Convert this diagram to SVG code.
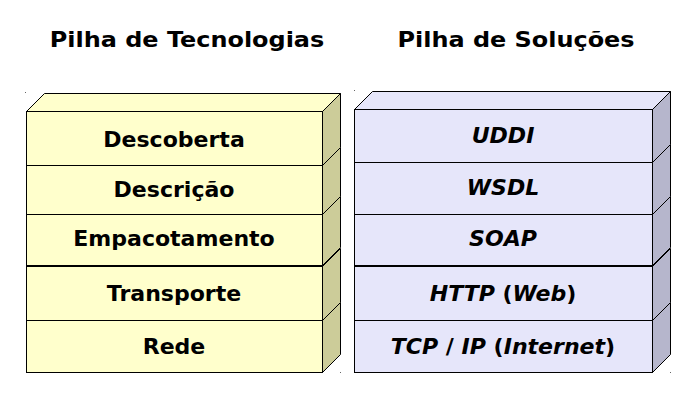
<svg xmlns="http://www.w3.org/2000/svg" width="700" height="400" viewBox="0 0 700 400">
<style>
  .t { font-family: "DejaVu Sans", "Liberation Sans", sans-serif; font-weight: bold; font-size: 21px; fill: #000; text-anchor: middle; }
  .i { font-style: italic; }
  .ln { stroke: #000; stroke-width: 1; }
  .yf { fill: #FFFFCC; }
  .ys { fill: #CCCC99; }
  .bf { fill: #E6E6FA; }
  .bs { fill: #B6B6CC; }
  .dot { fill: #666; }
</style>
<rect width="700" height="400" fill="#fff"/>
<text class="t" transform="translate(187,47) scale(1.14,1)">Pilha de Tecnologias</text>
<text class="t" transform="translate(516,47) scale(1.14,1)">Pilha de Soluções</text>

<!-- Left stack -->
<g id="left-stack">
  <g id="rede">
    <polygon class="ys ln" points="322.5,320.5 340.5,302.5 340.5,354.5 322.5,372.5"/>
    <rect class="yf ln" x="26.5" y="320.5" width="296" height="52"/>
    <text class="t" transform="translate(174,354) scale(1.05,1)">Rede</text>
  </g>
  <g id="transporte">
    <polygon class="ys ln" points="322.5,266.5 340.5,248.5 340.5,302.5 322.5,320.5"/>
    <rect class="yf ln" x="26.5" y="266.5" width="296" height="54"/>
    <text class="t" transform="translate(174,301) scale(1.05,1)">Transporte</text>
  </g>
  <g id="empacotamento">
    <polygon class="ys ln" points="322.5,214.5 340.5,196.5 340.5,247.5 322.5,265.5"/>
    <rect class="yf ln" x="26.5" y="214.5" width="296" height="51"/>
    <text class="t" transform="translate(174,246) scale(1.05,1)">Empacotamento</text>
  </g>
  <g id="descricao">
    <polygon class="ys ln" points="322.5,165.5 340.5,147.5 340.5,196.5 322.5,214.5"/>
    <rect class="yf ln" x="26.5" y="165.5" width="296" height="49"/>
    <text class="t" transform="translate(174,197) scale(1.05,1)">Descrição</text>
  </g>
  <g id="descoberta">
    <polygon class="yf ln" points="26.5,111.5 44.5,93.5 340.5,93.5 322.5,111.5"/>
    <polygon class="ys ln" points="322.5,111.5 340.5,93.5 340.5,147.5 322.5,165.5"/>
    <rect class="yf ln" x="26.5" y="111.5" width="296" height="54"/>
    <text class="t" transform="translate(174,147) scale(1.05,1)">Descoberta</text>
  </g>
  <rect class="dot" x="25" y="92" width="1" height="1"/>
  <rect class="dot" x="340" y="372" width="1" height="1"/>
</g>

<!-- Right stack -->
<g id="right-stack">
  <g id="tcpip">
    <polygon class="bs ln" points="652.5,320.5 670.5,302.5 670.5,354.5 652.5,372.5"/>
    <rect class="bf ln" x="354.5" y="320.5" width="298" height="52"/>
    <text class="t" transform="translate(503,354) scale(1.05,1)"><tspan class="i">TCP</tspan> / <tspan class="i">IP</tspan> (<tspan class="i">Internet</tspan>)</text>
  </g>
  <g id="http">
    <polygon class="bs ln" points="652.5,266.5 670.5,248.5 670.5,302.5 652.5,320.5"/>
    <rect class="bf ln" x="354.5" y="266.5" width="298" height="54"/>
    <text class="t" transform="translate(503,301) scale(1.05,1)"><tspan class="i">HTTP</tspan> (<tspan class="i">Web</tspan>)</text>
  </g>
  <g id="soap">
    <polygon class="bs ln" points="652.5,214.5 670.5,196.5 670.5,247.5 652.5,265.5"/>
    <rect class="bf ln" x="354.5" y="214.5" width="298" height="51"/>
    <text class="t i" transform="translate(503,246) scale(1.05,1)">SOAP</text>
  </g>
  <g id="wsdl">
    <polygon class="bs ln" points="652.5,162.5 670.5,144.5 670.5,196.5 652.5,214.5"/>
    <rect class="bf ln" x="354.5" y="162.5" width="298" height="52"/>
    <text class="t i" transform="translate(503,195) scale(1.05,1)">WSDL</text>
  </g>
  <g id="uddi">
    <polygon class="bf ln" points="354.5,109.5 372.5,91.5 670.5,91.5 652.5,109.5"/>
    <polygon class="bs ln" points="652.5,109.5 670.5,91.5 670.5,144.5 652.5,162.5"/>
    <rect class="bf ln" x="354.5" y="109.5" width="298" height="53"/>
    <text class="t i" transform="translate(503,143) scale(1.05,1)">UDDI</text>
  </g>
  <rect class="dot" x="354" y="90" width="1" height="1"/>
  <rect class="dot" x="670" y="372" width="1" height="1"/>
</g>
</svg>
